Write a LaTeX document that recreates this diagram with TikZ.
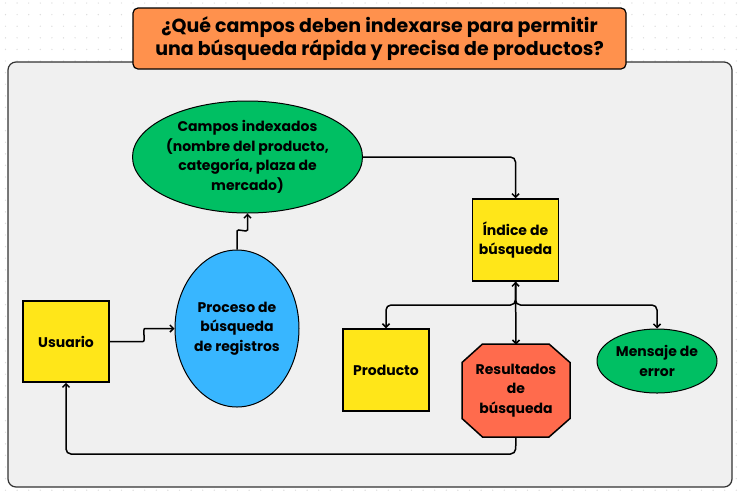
\documentclass[tikz,border=0pt]{standalone}
\usepackage{fontspec}
\setmainfont{Poppins}
\usetikzlibrary{shapes.geometric,arrows.meta}
\definecolor{cyel}{HTML}{FFE619}
\definecolor{cblue}{HTML}{38B6FF}
\definecolor{cgreen}{HTML}{00BF63}
\definecolor{cred}{HTML}{FF6B4D}
\definecolor{corange}{HTML}{FF914D}
\definecolor{cpanel}{HTML}{F0F0F0}
\definecolor{cdot}{HTML}{DCDCDC}
\tikzset{
  txt/.style={font=\bfseries\fontsize{14}{19.5}\selectfont, align=center, text=black},
  boxnode/.style={txt, draw=black, line width=1.5pt, fill=cyel, inner sep=0pt},
  ellnode/.style={txt, ellipse, draw=black, line width=1pt, inner sep=0pt},
  octnode/.style={txt, inner sep=0pt},
  octshape/.style={draw=black, line width=1.5pt, fill=cred, line join=miter},
  conn/.style={line width=1.5pt, draw=black, rounded corners=5pt},
  arr/.style={conn, -{Straight Barb[length=3.5pt,width=7pt]}},
  darr/.style={conn, {Straight Barb[length=3.5pt,width=7pt]}-{Straight Barb[length=3.5pt,width=7pt]}},
}
\begin{document}
\begin{tikzpicture}[x=1pt,y=-1pt]
\useasboundingbox (0,0) rectangle (741,499);
\fill[white] (0,0) rectangle (741,499);
% dot grid
\foreach \i in {0,...,64}{
  \foreach \j in {0,...,43}{
    \fill[cdot] (5.5+11.6*\i, 3+11.6*\j) circle (0.7);
  }
}
% panel
\draw[fill=cpanel, draw=black!80, line width=1.2pt, rounded corners=8pt] (8,62) rectangle (732,487);
% title
\node[draw=black, line width=1.2pt, fill=corange, rounded corners=5pt, minimum width=493pt, minimum height=61pt, inner sep=0pt, align=center, font=\bfseries\fontsize{19}{23}\selectfont] (title) at (379.5,38.5) {¿Qué campos deben indexarse para permitir\\una búsqueda rápida y precisa de productos?};
% octagon shape
\fill[octshape] (482.5,344) -- (549,344) -- (570,362.5) -- (570,418.5) -- (549,437) -- (482.5,437) -- (462,418.5) -- (462,362.5) -- cycle;
% nodes
\node[boxnode, minimum width=86pt, minimum height=81pt] (usr) at (66,341.5) {Usuario};
\node[ellnode, fill=cblue, minimum width=124pt, minimum height=157pt] (proc) at (237,328.5) {Proceso de\\búsqueda\\de registros};
\node[ellnode, fill=cgreen, minimum width=229pt, minimum height=112pt] (camp) at (247.5,157) {Campos indexados\\(nombre del producto,\\categoría, plaza de\\mercado)};
\node[boxnode, minimum width=86pt, minimum height=82pt] (idx) at (515.5,240) {Índice de\\búsqueda};
\node[boxnode, minimum width=86pt, minimum height=82pt] (prod) at (386,370) {Producto};
\node[octnode, minimum width=108pt, minimum height=93pt] (res) at (516,390.5) {Resultados\\de\\búsqueda};
\node[ellnode, fill=cgreen, minimum width=120pt, minimum height=64pt] (msg) at (657,361) {Mensaje de\\error};
% connectors
\coordinate (u1) at (138,341.5);
\coordinate (u2) at (150,328.5);
\draw[arr] (usr.east) -- (u1) .. controls (146,341.5) and (142,328.5) .. (u2) -- (proc.west);
\coordinate (p1) at (237,236);
\coordinate (p2) at (247.5,225);
\draw[arr] (proc.north) -- (p1) .. controls (237,228) and (247.5,233) .. (p2) -- (camp.south);
\draw[arr] (camp.east) -| (idx.north);
\draw[darr] (idx.south) -- ([yshift=-0.75pt]res.north);
\coordinate (j) at (515.5,305);
\draw[arr] (idx.south) -- (j) -| (prod.north);
\draw[arr] (idx.south) -- (j) -| (msg.north);
\coordinate (b) at (515.5,454);
\draw[arr] (res.south) -- (b) -| (usr.south);
\end{tikzpicture}
\end{document}
